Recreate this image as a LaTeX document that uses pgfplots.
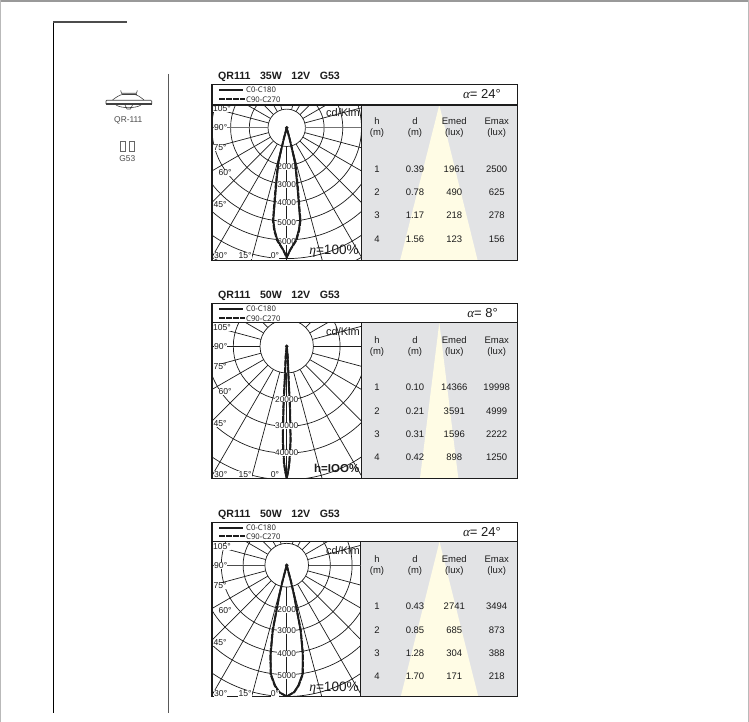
\documentclass[border=0pt]{standalone}
\usepackage{fontspec}
\setmainfont{Liberation Sans}
\newfontfamily\legfont{Open Sans}
\newfontfamily\serfont{Liberation Serif}
\usepackage{pgfplots}
\pgfplotsset{compat=1.18}
\usepackage{pgfplotstable}
\definecolor{tablegray}{HTML}{E2E3E5}
\definecolor{beam}{HTML}{FFFCE5}
\definecolor{inkc}{HTML}{1C1C1C}
\newcommand\fs[1]{\fontsize{#1}{#1}\selectfont}

% angle from nadir (deg), intensity (cd/klm)
\pgfplotstableread{
a r
-20 0
-14.9 553
-14 1102
-13.2 1958
-10.2 3206
-8.2 4989
-6.7 5510
-4.7 6028
-1.6 6544
0 6934
1.6 6544
4.7 6028
6.7 5510
8.2 4989
10.2 3206
13.2 1958
14 1102
14.9 553
20 0
}\pa
\pgfplotstableread{
a r
-20 0
-14.9 570
-14.2 1120
-13.6 1990
-10.6 3220
-8.4 5020
-6.9 5530
-4.9 6040
-1.6 6544
0 6934
1.6 6544
4.9 6040
6.9 5530
8.4 5020
10.6 3220
13.6 1990
14.2 1120
14.9 570
20 0
}\pb
\pgfplotstableread{
a r
-5.7 0
-5.7 3780
-3.4 10270
-3.0 22780
-2.3 35280
-1.2 44010
-0.6 47130
0 49380
0.6 47130
1.2 44010
2.3 35280
3.0 22780
3.4 10270
5.7 3780
5.7 0
}\qa
\pgfplotstableread{
a r
-5.7 0
-5.7 3780
-3.5 10270
-3.1 22780
-2.4 35280
-1.3 44010
-0.6 47130
0 49380
0.6 47130
1.3 44010
2.4 35280
3.1 22780
3.5 10270
5.7 3780
5.7 0
}\qb
\pgfplotstableread{
a r
-20 0
-14.6 783
-13.7 1404
-12.7 2066
-12.0 3067
-10.2 4125
-8.3 5023
-5.5 5525
-3.3 5813
0 6000
3.3 5813
5.5 5525
8.3 5023
10.2 4125
12.0 3067
12.7 2066
13.7 1404
14.6 783
20 0
}\ra
\pgfplotstableread{
a r
-20 0
-14.8 783
-13.9 1404
-12.9 2066
-12.2 3067
-10.4 4125
-8.5 5023
-5.7 5525
-3.4 5813
0 6000
3.4 5813
5.7 5525
8.5 5023
10.4 4125
12.2 3067
12.9 2066
13.9 1404
14.8 783
20 0
}\rb

\pgfplotsset{lum/.style={scale only axis,width=149pt,height=155.6pt,xtick=\empty,ytick=\empty,
  anchor=south west,axis line style={draw=inkc,line width=1pt}}}
\tikzset{gridl/.style={draw=inkc,line width=0.7pt},
  val/.style={fill=white,inner sep=0.2pt,text=inkc,font=\fs{8.3}},
  ang/.style={fill=white,inner sep=0.2pt,text=inkc,font=\fs{8.6}},
  tt/.style={inner sep=0pt,text=inkc,font=\fs{9.5},align=center}}
\pgfplotsset{curveA/.style={draw=inkc,line width=1.6pt,no marks},
  curveB/.style={draw=inkc,line width=2pt,no marks,dash pattern=on 6pt off 1pt}}

% #1 grid step, #2 90-degree line colour
\newcommand\polargrid[2]{%
  \pgfplotsinvokeforeach{1,2,3,4,5,6,7,8,9}{\draw[gridl] (axis cs:0,0) circle[radius=##1*#1];}
  \pgfplotsinvokeforeach{15,30,45,60,75,105,120,135,150,165}{%
    \draw[gridl] (axis cs:{#1*sin(##1)},{-#1*cos(##1)}) -- (axis cs:{10*#1*sin(##1)},{-10*#1*cos(##1)});
    \draw[gridl] (axis cs:{-#1*sin(##1)},{-#1*cos(##1)}) -- (axis cs:{-10*#1*sin(##1)},{-10*#1*cos(##1)});}
  \draw[draw=#2,line width=1.1pt] (axis cs:#1,0) -- (axis cs:10*#1,0);
  \draw[draw=#2,line width=1.1pt] (axis cs:-#1,0) -- (axis cs:-10*#1,0);
  \draw[gridl] (axis cs:0,-#1) -- (axis cs:0,-10*#1);
}
\newcommand\plotcurves[2]{%
  \addplot[curveA] table[x expr=\thisrow{r}/1000*sin(\thisrow{a}),y expr=-\thisrow{r}/1000*cos(\thisrow{a})] {#1};
  \addplot[curveB] table[x expr=\thisrow{r}/1000*sin(\thisrow{a}),y expr=-\thisrow{r}/1000*cos(\thisrow{a})] {#2};
  \addplot[only marks,mark=*,mark size=1.6pt,color=inkc] coordinates {(0,0)};
}
% #1 top, #2 title, #3 alpha text, #4 alpha x
\newcommand\chrome[5]{%
  \node[anchor=west,inner sep=0pt,text=inkc,font=\bfseries\fs{10.6}] at (218,#1-7)
    {QR111\hspace{9.5pt}#2\hspace{9.5pt}12V\hspace{9.5pt}G53};
  \draw[inkc,line width=1.2pt] (219,#1+5.7) -- (243.3,#1+5.7);
  \draw[inkc,line width=2pt,dash pattern=on 5.5pt off 1.6pt] (219,#1+#5) -- (245,#1+#5);
  \node[anchor=west,inner sep=0pt,text=inkc,font=\legfont\fs{7.7}] at (246,#1+5.5) {C0-C180};
  \node[anchor=west,inner sep=0pt,text=inkc,font=\legfont\fs{7.7}] at (246,#1+#5+0.5) {C90-C270};
  \node[inner sep=0pt,text=inkc,font=\fs{13}] at (#4,#1+9.6) {{\serfont\itshape α}= #3°};
  \node[tt] at (377,#1+36.7) {h}; \node[tt] at (377,#1+49.2) {(m)};
  \node[tt] at (415,#1+36.7) {d}; \node[tt] at (415,#1+49.2) {(m)};
  \node[tt] at (454.3,#1+36.7) {Emed}; \node[tt] at (454.3,#1+49.2) {(lux)};
  \node[tt] at (496.7,#1+36.7) {Emax}; \node[tt] at (496.7,#1+49.2) {(lux)};
  \node[inner sep=0pt,text=inkc,font=\fs{11}] at (343,#1+28.4) {cd/Klm};
  \node[ang] at (222,#1+24.6) {105°};
  \node[ang] at (220.7,#1+43.4) {90°};
  \node[ang] at (220,#1+63.7) {75°};
  \node[ang] at (225,#1+88.7) {60°};
  \node[ang] at (220,#1+120.7) {45°};
  \node[ang] at (220.7,#1+171.4) {30°};
  \node[ang] at (245,#1+171.4) {15°};
  \node[ang] at (275,#1+171.4) {0°};
}
% #1 top, #2 row offset, #3.. cells
\newcommand\trow[6]{%
  \node[tt] at (377,#1+#2) {#3};
  \node[tt] at (415,#1+#2) {#4};
  \node[tt] at (454.3,#1+#2) {#5};
  \node[tt] at (496.7,#1+#2) {#6};
}

\begin{document}
\begin{tikzpicture}[x=1pt,y=-1pt]
\path[use as bounding box,fill=white] (0,0) rectangle (749,722);
% page edge
\fill[gray!80] (0,0) rectangle (749,1.8);
\fill[gray!55] (0,0) rectangle (1,722);
\fill[gray!55] (747.6,0) rectangle (749,722);
% page rules
\draw[black,line width=1.3pt] (53.4,22) -- (53.4,712.7);
\draw[black!70,line width=1.3pt] (53.4,22) -- (126.7,22);
\draw[black!65,line width=1.3pt] (168.7,74) -- (168.7,712.7);
% lamp icon
\begin{scope}[draw=black!75,line width=0.6pt]
\draw (120.7,90.5) -- (121.5,93.3) -- (136.5,93.3) -- (137.3,90.5);
\draw (121.5,94.6) -- (136.5,94.6);
\draw (112.5,100) .. controls (117,96.5) and (120,95) .. (122,94.6);
\draw (144,100) .. controls (140,96.5) and (137,95) .. (135,94.6);
\draw[line width=0.7pt,rounded corners=1pt] (106,100.2) rectangle (151.7,104.6);
\fill[black!75] (106,103) rectangle (151.7,104.8);
\draw (116,105) .. controls (121,108.5) and (136,108.5) .. (141,105);
\draw (125,105) -- (127,109) -- (130.5,109) -- (132.5,105);
\draw[black!60] (120,141) rectangle (125,151);
\draw[black!60] (129,141) rectangle (134,151);
\end{scope}
\node[inner sep=0pt,text=black!70,font=\fs{8.4}] at (128.3,120.2) {QR-111};
\node[inner sep=0pt,text=black!70,font=\fs{8.4}] at (127.3,159) {G53};

% table backgrounds
\fill[tablegray] (361,105) rectangle (517.7,260.7);
\fill[beam] (439.3,105) -- (477.7,260.7) -- (400,260.7) -- cycle;
\fill[tablegray] (361,322.7) rectangle (517.7,478.3);
\fill[beam] (439.3,322.7) -- (458.3,478.3) -- (420,478.3) -- cycle;
\fill[tablegray] (361,541.7) rectangle (517.7,696.7);
\fill[beam] (439.5,541.7) -- (478.3,696.7) -- (400.7,696.7) -- cycle;

% ---------- panel 1
\begin{axis}[lum,at={(212pt,-260.7pt)},xmin=-3.995,xmax=3.973,ymin=-7.112,ymax=1.214]
\polargrid{1}{black!55}
\node[val] at (axis cs:0,-2.08) {2000};
\node[val] at (axis cs:0,-3.06) {3000};
\node[val] at (axis cs:0,-4.03) {4000};
\node[val] at (axis cs:0,-5.07) {5000};
\node[val] at (axis cs:0,-6.08) {6000};
\plotcurves{\pa}{\pb}
\end{axis}
% ---------- panel 2
\begin{axis}[lum,at={(212pt,-478.3pt)},xmin=-27.978,xmax=27.828,ymin=-49.44,ymax=8.84]
\polargrid{10}{inkc}
\plotcurves{\qa}{\qb}
\node[val] at (axis cs:0,-19.85) {20000};
\node[val] at (axis cs:0,-29.85) {30000};
\node[val] at (axis cs:0,-39.85) {40000};
\end{axis}
% ---------- panel 3
\begin{axis}[lum,at={(212pt,-696.7pt)},xmin=-3.427,xmax=3.408,ymin=-6.009,ymax=1.101]
\polargrid{1}{black!70}
\node[val] at (axis cs:0,-2.03) {2000};
\node[val] at (axis cs:0,-3.0) {3000};
\node[val] at (axis cs:0,-4.05) {4000};
\node[val] at (axis cs:0,-5.05) {5000};
\plotcurves{\ra}{\rb}
\end{axis}

% outer boxes
\draw[inkc,line width=1.1pt] (212,84.3) rectangle (517.7,260.7);
\draw[inkc,line width=1.1pt] (212,105) -- (517.7,105);
\draw[inkc,line width=1.1pt] (212,303.3) rectangle (517.7,478.3);
\draw[inkc,line width=1.1pt] (212,322.7) -- (517.7,322.7);
\draw[inkc,line width=1.1pt] (212,522.3) rectangle (517.7,696.7);
\draw[inkc,line width=1.1pt] (212,541.7) -- (517.7,541.7);

\chrome{84.3}{35W}{24}{482}{14.7}
\chrome{303.3}{50W}{8}{482.5}{15}
\chrome{522.3}{50W}{24}{482}{13.7}

\node[inner sep=0pt,text=inkc,font=\fs{13.6}] at (334,251.5) {{\serfont\itshape η}=100\%};
\node[inner sep=0pt,text=inkc,font=\bfseries\fs{11.5}] at (336.7,468.5) {h=IOO\%};
\node[inner sep=0pt,text=inkc,font=\fs{13.6}] at (334,688) {{\serfont\itshape η}=100\%};

\trow{84.3}{85}{1}{0.39}{1961}{2500}
\trow{84.3}{108}{2}{0.78}{490}{625}
\trow{84.3}{131.4}{3}{1.17}{218}{278}
\trow{84.3}{154.7}{4}{1.56}{123}{156}

\trow{303.3}{84}{1}{0.10}{14366}{19998}
\trow{303.3}{107.7}{2}{0.21}{3591}{4999}
\trow{303.3}{131}{3}{0.31}{1596}{2222}
\trow{303.3}{154.4}{4}{0.42}{898}{1250}

\trow{522.3}{83.7}{1}{0.43}{2741}{3494}
\trow{522.3}{107.7}{2}{0.85}{685}{873}
\trow{522.3}{131}{3}{1.28}{304}{388}
\trow{522.3}{154.4}{4}{1.70}{171}{218}
\end{tikzpicture}
\end{document}
